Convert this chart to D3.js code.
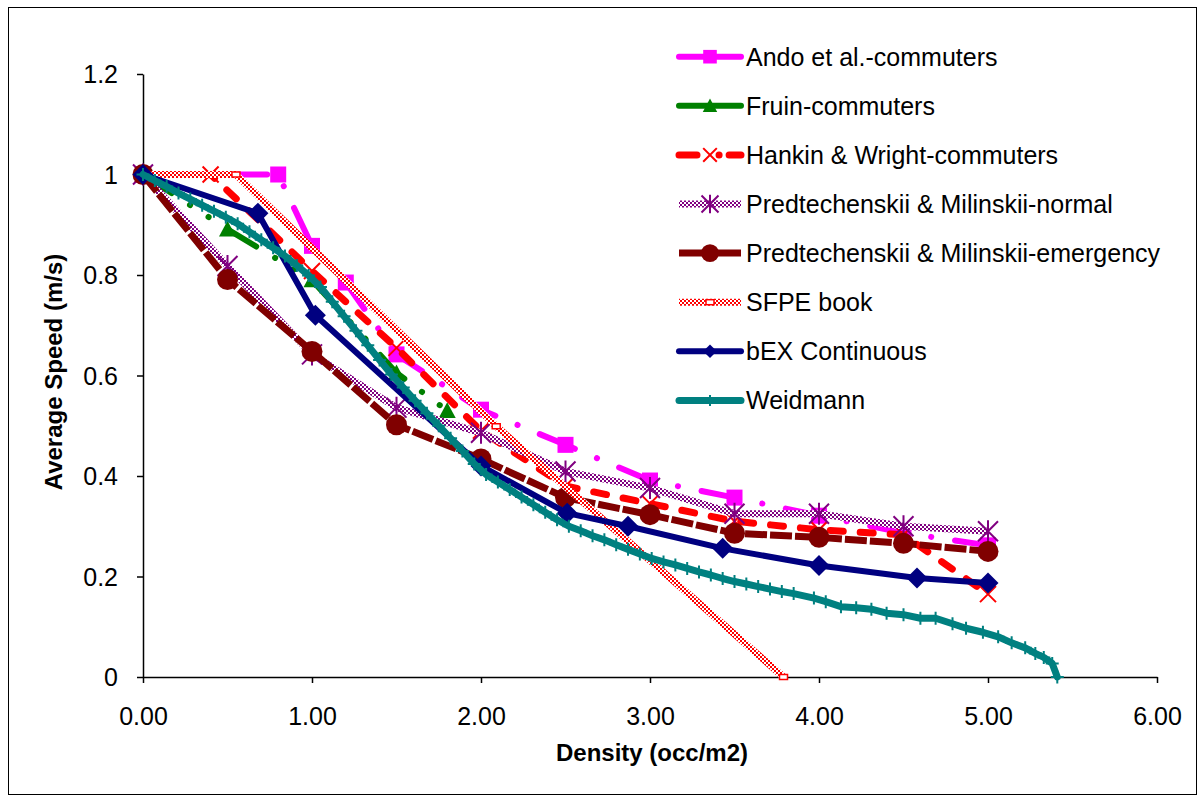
<!DOCTYPE html>
<html>
<head>
<meta charset="utf-8">
<script src="https://cdn.jsdelivr.net/npm/d3@7"></script>
<style>
  body { margin: 0; background: #fff; }
  svg { display: block; font-family: "Liberation Sans", Arial, sans-serif; }
</style>
</head>
<body>
<svg id="chart" width="1203" height="800"></svg>
<script>
// ---- axis ticks ----
const xTickValues = [0, 1, 2, 3, 4, 5, 6];
const yTickValues = [0, 0.2, 0.4, 0.6, 0.8, 1.0, 1.2];

// ---- series data: density (occ/m2) and average speed (m/s) ----
const andoDensity = [0, 0.8, 1.0, 1.2, 1.5, 2.0, 2.5, 3.0, 3.5, 4.0, 4.5, 5.0];
const andoSpeed   = [1.0, 1.0, 0.858, 0.785, 0.642, 0.532, 0.462, 0.391, 0.357, 0.321, 0.287, 0.262];

const fruinDensity = [0, 0.5, 1.0, 1.5, 1.8];
const fruinSpeed   = [1.0, 0.891, 0.790, 0.605, 0.530];

const hankinDensity = [0, 0.4, 1.0, 1.5, 2.0, 2.5, 3.0, 3.5, 4.0, 4.5, 5.0];
const hankinSpeed   = [1.0, 1.0, 0.808, 0.655, 0.490, 0.380, 0.345, 0.310, 0.293, 0.283, 0.165];

const predNormalDensity = [0, 0.5, 1.0, 1.5, 2.0, 2.5, 3.0, 3.5, 4.0, 4.5, 5.0];
const predNormalSpeed   = [1.0, 0.818, 0.642, 0.536, 0.486, 0.409, 0.376, 0.325, 0.325, 0.300, 0.290];

const predEmergDensity = [0, 0.5, 1.0, 1.5, 2.0, 2.5, 3.0, 3.5, 4.0, 4.5, 5.0];
const predEmergSpeed   = [1.0, 0.791, 0.648, 0.502, 0.434, 0.357, 0.323, 0.286, 0.278, 0.266, 0.250];

const sfpeDensity = [0, 0.55, 2.09, 3.79];
const sfpeSpeed   = [1.0, 1.0, 0.499, 0.0];

const bexDensity = [0, 0.68, 1.02, 2.0, 2.51, 2.87, 3.43, 4.0, 4.58, 5.0];
const bexSpeed   = [1.0, 0.923, 0.720, 0.420, 0.326, 0.300, 0.256, 0.222, 0.197, 0.187];

const weidmannDensity = [0, 0.07, 0.14, 0.21, 0.28, 0.35, 0.42, 0.49, 0.56, 0.63, 0.70, 0.77, 0.84, 0.91, 0.98,
  1.05, 1.12, 1.19, 1.26, 1.33, 1.40, 1.47, 1.54, 1.61, 1.68, 1.75, 1.82, 1.89, 1.96, 2.03, 2.10, 2.17, 2.24,
  2.31, 2.38, 2.45, 2.52, 2.59, 2.66, 2.73, 2.80, 2.87, 2.94, 3.01, 3.08, 3.15, 3.22, 3.29, 3.36, 3.43, 3.50,
  3.57, 3.64, 3.71, 3.78, 3.85, 3.97, 4.04, 4.13, 4.22, 4.31, 4.40, 4.50, 4.60, 4.69, 4.79, 4.87, 4.97, 5.06,
  5.14, 5.22, 5.28, 5.33, 5.38, 5.41];
const weidmannSpeed = [1.000, 0.988, 0.976, 0.963, 0.951, 0.939, 0.927, 0.915, 0.902, 0.886, 0.870, 0.854, 0.838,
  0.819, 0.799, 0.776, 0.747, 0.718, 0.689, 0.660, 0.631, 0.602, 0.576, 0.550, 0.525, 0.500, 0.475, 0.450, 0.424,
  0.403, 0.388, 0.373, 0.358, 0.343, 0.328, 0.313, 0.300, 0.291, 0.281, 0.273, 0.263, 0.254, 0.245, 0.236, 0.229,
  0.223, 0.216, 0.209, 0.203, 0.196, 0.190, 0.185, 0.180, 0.175, 0.170, 0.166, 0.157, 0.150, 0.140, 0.138, 0.135,
  0.127, 0.124, 0.117, 0.117, 0.106, 0.097, 0.089, 0.080, 0.068, 0.058, 0.047, 0.039, 0.027, 0.000];

const seriesNames = [
  "Ando et al.-commuters",
  "Fruin-commuters",
  "Hankin & Wright-commuters",
  "Predtechenskii & Milinskii-normal",
  "Predtechenskii & Milinskii-emergency",
  "SFPE book",
  "bEX Continuous",
  "Weidmann"
];

// ---- series table (data + drawing style) ----
const toPoints = (xs, ys) => xs.map((x, i) => ({ x: x, y: ys[i] }));
const series = [
  { name: seriesNames[0], pts: toPoints(andoDensity, andoSpeed), stroke: "#FF00FF", width: 6,
    dash: "38,24,0.1,24", cap: "round", marker: "square", color: "#FF00FF" },
  { name: seriesNames[1], pts: toPoints(fruinDensity, fruinSpeed), stroke: "#008000", width: 6,
    dash: "34,22,0.1,22,0.1,22", cap: "round", marker: "triangle", color: "#008000" },
  { name: seriesNames[2], pts: toPoints(hankinDensity, hankinSpeed), stroke: "#FF0000", width: 7,
    dash: "13,17", cap: "round", marker: "x", color: "#FF0000" },
  { name: seriesNames[3], pts: toPoints(predNormalDensity, predNormalSpeed), stroke: "url(#chkPurple)", width: 7,
    dash: null, cap: "butt", marker: "asterisk", color: "#800080" },
  { name: seriesNames[4], pts: toPoints(predEmergDensity, predEmergSpeed), stroke: "#800000", width: 7,
    dash: "22,3", cap: "butt", marker: "circle", color: "#800000" },
  { name: seriesNames[5], pts: toPoints(sfpeDensity, sfpeSpeed), stroke: "url(#chkRed)", width: 7,
    dash: null, cap: "butt", marker: "rect", color: "#FF0000" },
  { name: seriesNames[6], pts: toPoints(bexDensity, bexSpeed), stroke: "#000080", width: 6,
    dash: null, cap: "round", marker: "diamond", color: "#000080" },
  { name: seriesNames[7], pts: toPoints(weidmannDensity, weidmannSpeed), stroke: "#008080", width: 7,
    dash: null, cap: "round", marker: "plus", color: "#008080" }
];

const svg = d3.select("#chart");

// checkered stroke patterns
const defs = svg.append("defs");
function checker(id, color) {
  const p = defs.append("pattern").attr("id", id).attr("width", 4).attr("height", 4)
    .attr("patternUnits", "userSpaceOnUse");
  p.append("rect").attr("width", 4).attr("height", 4).attr("fill", "#fff");
  p.append("rect").attr("width", 2).attr("height", 2).attr("fill", color);
  p.append("rect").attr("x", 2).attr("y", 2).attr("width", 2).attr("height", 2).attr("fill", color);
}
checker("chkPurple", "#800080");
checker("chkRed", "#FF0000");

// outer frame
svg.append("rect").attr("x", 8.5).attr("y", 7.5).attr("width", 1188).attr("height", 787)
  .attr("fill", "#fff").attr("stroke", "#000").attr("stroke-width", 1);

// ---- scales ----
const x = d3.scaleLinear().domain([0, 6]).range([143, 1157]);
const y = d3.scaleLinear().domain([0, 1.2]).range([677, 74]);

// ---- axes ----
const xAxis = svg.append("g").attr("transform", `translate(0,${y(0)})`)
  .call(d3.axisBottom(x).tickValues(xTickValues).tickSize(6).tickSizeOuter(0).tickFormat(d3.format(".2f")));
const yAxis = svg.append("g").attr("transform", `translate(${x(0)},0)`)
  .call(d3.axisLeft(y).tickValues(yTickValues).tickSize(6).tickSizeOuter(0).tickFormat(d => String(+d.toFixed(1))));
[xAxis, yAxis].forEach(g => {
  g.select(".domain").attr("stroke", "#000").attr("stroke-width", 1.5);
  g.selectAll(".tick line").attr("stroke", "#000").attr("stroke-width", 1.5);
  g.selectAll(".tick text").attr("fill", "#000").attr("font-size", 25)
    .attr("font-family", "'Liberation Sans', Arial, sans-serif");
});
xAxis.selectAll(".tick text").attr("dy", null).attr("y", 48);
yAxis.selectAll(".tick text").attr("x", -25).attr("dy", "0.35em");

// axis titles
svg.append("text").attr("x", 652).attr("y", 761).attr("text-anchor", "middle")
  .attr("font-size", 24).attr("font-weight", "bold").text("Density (occ/m2)");
svg.append("text").attr("transform", "translate(62,372) rotate(-90)").attr("text-anchor", "middle")
  .attr("font-size", 24).attr("font-weight", "bold").text("Average Speed (m/s)");

// ---- marker drawing ----
function drawMarker(g, type, color, cx, cy, k) {
  k = k || 1;
  const t = `translate(${cx},${cy})`;
  if (type === "square") {
    const s = 8 * k;
    g.append("rect").attr("x", cx - s).attr("y", cy - s).attr("width", 2 * s).attr("height", 2 * s).attr("fill", color);
  } else if (type === "triangle") {
    const s = 8.5 * k;
    g.append("path").attr("transform", t)
      .attr("d", `M0,${-s}L${s},${s * 0.85}L${-s},${s * 0.85}Z`).attr("fill", color);
  } else if (type === "x") {
    const s = 8 * k;
    g.append("path").attr("transform", t)
      .attr("d", `M${-s},${-s}L${s},${s}M${-s},${s}L${s},${-s}`)
      .attr("stroke", color).attr("stroke-width", 2).attr("fill", "none");
  } else if (type === "asterisk") {
    const s = 10 * k;
    g.append("path").attr("transform", t)
      .attr("d", `M${-s},${-s}L${s},${s}M${-s},${s}L${s},${-s}M0,${-s * 1.1}L0,${s * 1.1}`)
      .attr("stroke", color).attr("stroke-width", 2).attr("fill", "none");
  } else if (type === "circle") {
    g.append("circle").attr("cx", cx).attr("cy", cy).attr("r", 10.5 * k).attr("fill", color);
  } else if (type === "rect") {
    g.append("rect").attr("x", cx - 4).attr("y", cy - 2.5).attr("width", 8).attr("height", 5)
      .attr("fill", "#fff").attr("stroke", color).attr("stroke-width", 1.5);
  } else if (type === "diamond") {
    const s = 10.5 * k;
    g.append("path").attr("transform", t)
      .attr("d", `M0,${-s}L${s},0L0,${s}L${-s},0Z`).attr("fill", color);
  } else if (type === "plus") {
    const s = 6.5 * k;
    g.append("path").attr("transform", t)
      .attr("d", `M${-s},0L${s},0M0,${-s}L0,${s}`)
      .attr("stroke", color).attr("stroke-width", 2).attr("fill", "none");
  }
}

// ---- series lines and markers ----
const line = d3.line().x(d => x(d.x)).y(d => y(d.y));
const plot = svg.append("g");
series.forEach(s => {
  const g = plot.append("g");
  g.append("path").datum(s.pts).attr("d", line)
    .attr("fill", "none").attr("stroke", s.stroke).attr("stroke-width", s.width)
    .attr("stroke-linejoin", "round").attr("stroke-linecap", s.cap)
    .attr("stroke-dasharray", s.dash);
  s.pts.forEach(p => drawMarker(g, s.marker, s.color, x(p.x), y(p.y), 1));
});

// ---- legend ----
const legend = svg.append("g");
const legendTop = 56.7, legendStep = 49.1;
series.forEach((s, i) => {
  const cy = legendTop + i * legendStep;
  const g = legend.append("g");
  g.append("line").attr("x1", 679).attr("x2", 741).attr("y1", cy).attr("y2", cy)
    .attr("stroke", s.stroke).attr("stroke-width", s.width)
    .attr("stroke-linecap", s.cap).attr("stroke-dasharray", s.dash ? (i === 2 ? "18,22,0.1,10" : null) : null);
  drawMarker(g, s.marker, s.color, 710, cy, s.marker === "diamond" ? 0.65 : 0.85);
  g.append("text").attr("x", 746).attr("y", cy + 9).attr("font-size", 25).attr("fill", "#000").text(s.name);
});
</script>
</body>
</html>
